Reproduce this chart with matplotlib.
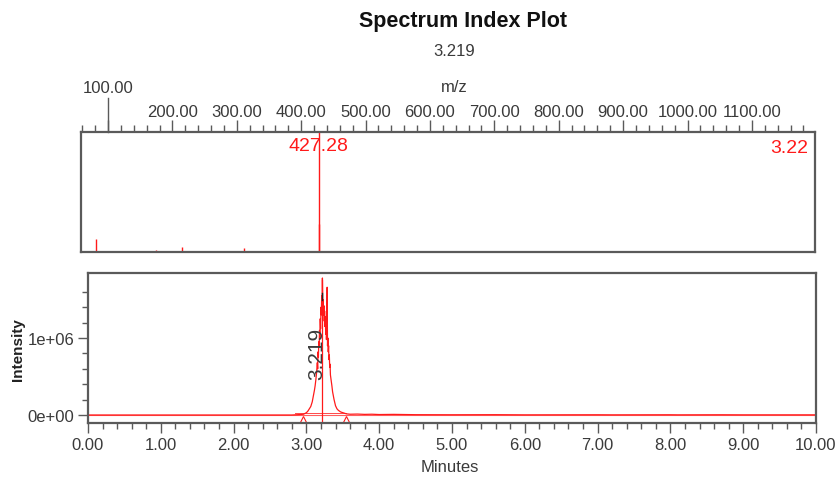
import numpy as np
import matplotlib
matplotlib.use('Agg')
import matplotlib.pyplot as plt
from matplotlib.ticker import FixedLocator, MultipleLocator, FuncFormatter

plt.rcParams['font.family'] = ['Liberation Sans Narrow', 'Liberation Sans', 'DejaVu Sans']

# Mass spectrum at 3.219 min (m/z, relative intensity %)
ms_mz = [80.9, 130.0, 152.0, 174.5, 215.4, 240.0, 262.0, 311.0, 330.0, 352.0, 380.0,
         427.28, 428.28, 462.0, 520.0, 560.0, 610.0, 660.0, 720.6, 790.0, 845.0,
         890.0, 940.0, 985.0, 1030.0, 1075.0, 1120.0, 1160.0]
ms_int = [11.0, 0.6, 0.8, 2.0, 4.0, 0.7, 0.6, 3.3, 0.8, 0.6, 0.7,
          100.0, 23.0, 0.9, 0.6, 0.7, 0.5, 0.6, 0.9, 0.6, 0.5,
          0.6, 0.5, 0.7, 0.5, 0.6, 0.5, 0.6]

# Chromatogram (minutes, intensity in units of 1e6)
chrom_t = [0.00, 2.80, 2.90, 2.96, 3.00, 3.02, 3.04, 3.06, 3.07, 3.08, 3.09, 3.10,
           3.11, 3.12, 3.13, 3.14, 3.15, 3.155, 3.16, 3.165, 3.17, 3.175, 3.18, 3.185,
           3.19, 3.195, 3.20, 3.205, 3.21, 3.215, 3.22, 3.225, 3.23, 3.235, 3.24, 3.245,
           3.25, 3.255, 3.26, 3.265, 3.27, 3.275, 3.28, 3.285, 3.29, 3.295, 3.30, 3.305,
           3.31, 3.315, 3.32, 3.325, 3.33, 3.34, 3.35, 3.36, 3.37, 3.38, 3.39, 3.40,
           3.42, 3.44, 3.47, 3.50, 3.55, 3.60, 3.70, 3.80, 3.90, 4.00, 4.20, 4.50,
           5.00, 5.60, 6.00, 7.00, 7.20, 8.00, 8.10, 8.70, 9.00, 9.80, 10.00]
chrom_i = [0.000, 0.000, 0.005, 0.010, 0.030, 0.050, 0.080, 0.110, 0.140, 0.170, 0.220, 0.270,
           0.320, 0.380, 0.460, 0.550, 0.680, 0.600, 0.820, 0.750, 0.950, 0.880, 1.100, 1.000,
           1.250, 1.120, 1.400, 1.300, 1.550, 1.380, 1.780, 1.400, 1.500, 1.300, 1.420, 1.220,
           1.350, 1.150, 1.280, 1.050, 1.200, 0.980, 1.100, 1.660, 0.900, 1.000, 0.820, 0.900,
           0.720, 0.780, 0.620, 0.660, 0.520, 0.450, 0.380, 0.300, 0.250, 0.200, 0.160, 0.120,
           0.080, 0.060, 0.040, 0.030, 0.015, 0.010, 0.012, 0.008, 0.010, 0.006, 0.008, 0.004,
           0.003, 0.004, 0.002, 0.003, 0.002, 0.003, 0.002, 0.003, 0.002, 0.002, 0.002]

peak_rt = 3.219
peak_mz = 427.28
int_start, int_end = 2.96, 3.55

major_mz = [100, 200, 300, 400, 500, 600, 700, 800, 900, 1000, 1100]
mz_labels = ['', '200.00', '300.00', '400.00', '500.00', '600.00', '700.00',
             '800.00', '900.00', '1000.00', '1100.00']
time_ticks = [0, 1, 2, 3, 4, 5, 6, 7, 8, 9, 10]
int_ticks = [0, 1e6]
int_labels = ['0e+00', '1e+06']

red = '#ff1a1a'
grey = '#5a5a5a'
text_col = '#3a3a3a'

fig = plt.figure(figsize=(8.4, 4.81), dpi=100)

# Upper panel: spectrum
ax1 = fig.add_axes([81 / 840, 1 - 253 / 481, 734 / 840, 120 / 481])
ax1.vlines(ms_mz, 0, ms_int, color=red, lw=1.0)
ax1.set_xlim(58, 1198)
ax1.set_ylim(0, 100)
ax1.xaxis.set_ticks_position('top')
ax1.xaxis.set_major_locator(FixedLocator(major_mz))
ax1.xaxis.set_major_formatter(FuncFormatter(lambda v, p: mz_labels[major_mz.index(int(round(v)))] if int(round(v)) in major_mz else ''))
ax1.xaxis.set_minor_locator(MultipleLocator(20))
ax1.tick_params(axis='x', which='major', length=9, width=1.0, color=grey, pad=0,
                labelsize=12, labelcolor=text_col)
ax1.tick_params(axis='x', which='minor', length=5, width=1.0, color=grey)
ax1.set_yticks([])
for s in ax1.spines.values():
    s.set_color(grey)
    s.set_linewidth(1.6)

# long tick for 100.00
ax1.plot([100, 100], [100, 128], color=grey, lw=1.0, clip_on=False)
ax1.text(100, 131, '100.00', ha='center', va='bottom', fontsize=12, color=text_col,
         clip_on=False)
ax1.text(peak_mz, 96, '427.28', ha='center', va='top', fontsize=14, color=red)
ax1.text(1188, 94, '3.22', ha='right', va='top', fontsize=14, color=red)

# Lower panel: chromatogram
ax2 = fig.add_axes([88 / 840, 1 - 424 / 481, 728 / 840, 150 / 481])
ax2.axhline(0, color=red, lw=0.8, alpha=0.7)
ax2.plot(chrom_t, [v * 1e6 for v in chrom_i], color=red, lw=0.9)
ax2.plot([2.85, int_end], [0.025e6, 0.025e6], color=red, lw=0.7, alpha=0.8)
ax2.plot([peak_rt, peak_rt], [-0.11e6, 1.75e6], color=red, lw=0.9)
ax2.plot([peak_rt, peak_rt], [1.50e6, 1.58e6], color='#222222', lw=1.0)
ax2.plot([int_start, int_end], [-0.06e6, -0.06e6], linestyle='none', marker='^',
         markersize=6, markerfacecolor='none', markeredgecolor=red, markeredgewidth=0.8)
ax2.text(3.145, 0.80e6, '3.219', rotation=90, ha='center', va='center',
         fontsize=15, color=text_col)
ax2.set_xlim(0, 10)
ax2.set_ylim(-0.104e6, 1.845e6)
ax2.set_xticks(time_ticks)
ax2.set_xticklabels(['%.2f' % t for t in time_ticks])
ax2.xaxis.set_minor_locator(MultipleLocator(0.2))
ax2.set_yticks(int_ticks)
ax2.set_yticklabels(int_labels)
ax2.yaxis.set_minor_locator(FixedLocator([2e5, 4e5, 6e5, 8e5, 1.2e6, 1.4e6, 1.6e6]))
ax2.tick_params(axis='both', which='major', length=7, width=1.0, color=grey, pad=3,
                labelsize=12, labelcolor=text_col)
ax2.tick_params(axis='both', which='minor', length=4, width=1.0, color=grey)
for s in ax2.spines.values():
    s.set_color(grey)
    s.set_linewidth(1.6)

# Titles and axis labels
fig.text(463 / 840, 1 - 22 / 481, 'Spectrum Index Plot', ha='center', va='center',
         fontsize=15.5, fontweight='bold', color='#111111')
fig.text(454 / 840, 1 - 52 / 481, '3.219', ha='center', va='center', fontsize=12,
         color=text_col)
fig.text(454 / 840, 1 - 88 / 481, 'm/z', ha='center', va='center', fontsize=12,
         color=text_col)
fig.text(450 / 840, 1 - 468 / 481, 'Minutes', ha='center', va='center', fontsize=12,
         color=text_col)
fig.text(18 / 840, 1 - 350 / 481, 'Intensity', ha='center', va='center', rotation=90,
         fontsize=11, fontweight='bold', color='#222222')

plt.savefig('out.png', dpi=100)
